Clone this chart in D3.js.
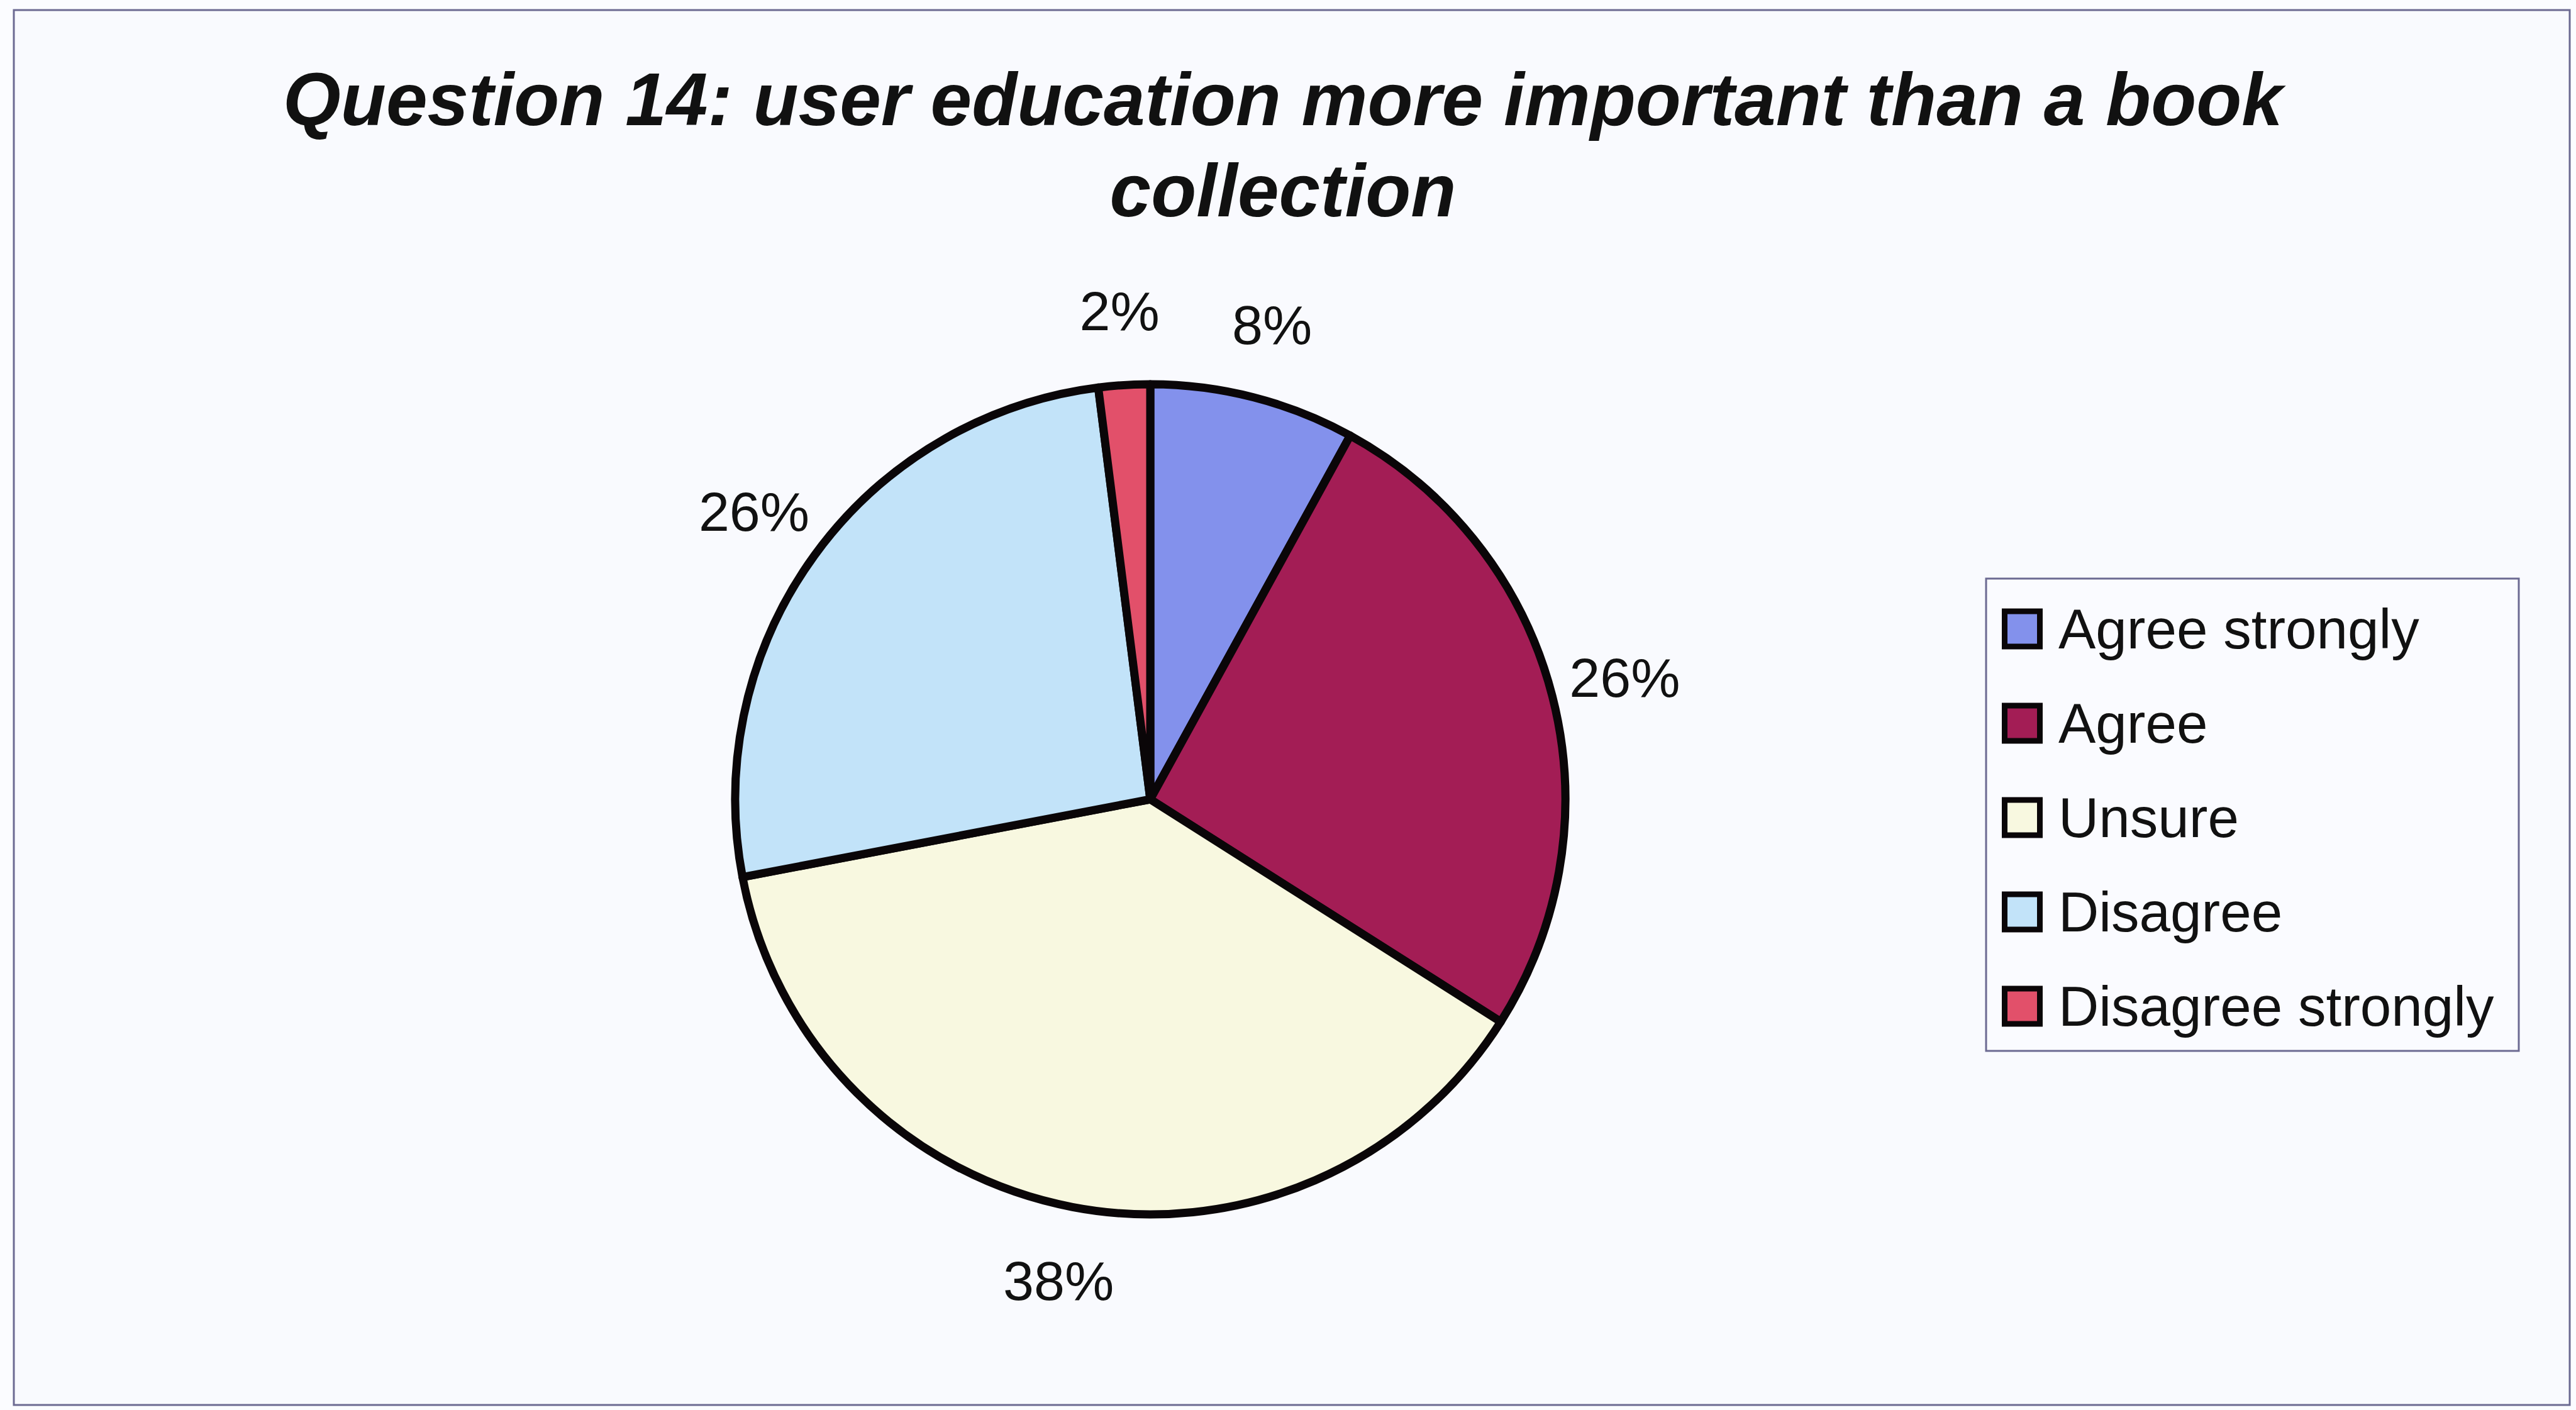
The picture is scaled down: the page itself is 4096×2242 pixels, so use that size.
<!DOCTYPE html>
<html>
<head>
<meta charset="utf-8">
<script src="https://cdn.jsdelivr.net/npm/d3@7"></script>
<style>
  html, body { margin: 0; padding: 0; background: #fbfcff; }
  svg { display: block; }
  text { font-family: 'Liberation Sans', Arial, sans-serif; fill: #111; }
</style>
</head>
<body>
<div id="app"></div>
<script>
const categories = ['Agree strongly', 'Agree', 'Unsure', 'Disagree', 'Disagree strongly'];
const values = [8, 26, 38, 26, 2];
const colors = ['#8391ec', '#a31d55', '#f8f8e0', '#c2e3f9', '#e2506a'];
const titleLines = ['Question 14: user education more important than a book', 'collection'];

const width = 4096;
const height = 2242;
const cx = 1829;
const cy = 1271;
const radius = 660;
const labelRadius = radius * 1.18;

const svg = d3.select('#app').append('svg')
  .attr('width', width)
  .attr('height', height);

// chart frame
svg.append('rect')
  .attr('x', 22)
  .attr('y', 16)
  .attr('width', 4064)
  .attr('height', 2218)
  .attr('fill', '#f9fafe')
  .attr('stroke', '#6c6a92')
  .attr('stroke-width', 3);

svg.append('g')
  .selectAll('text')
  .data(titleLines)
  .enter().append('text')
  .attr('x', 2040)
  .attr('y', (d, i) => 199 + i * 145)
  .attr('text-anchor', 'middle')
  .attr('font-size', 118)
  .attr('font-weight', 'bold')
  .attr('font-style', 'italic')
  .text(d => d);

const color = d3.scaleOrdinal().domain(categories).range(colors);

const pie = d3.pie().sort(null).value(d => d.value);
const arcs = pie(categories.map((c, i) => ({ name: c, value: values[i] })));
const total = d3.sum(values);

const arc = d3.arc().innerRadius(0).outerRadius(radius);
const labelArc = d3.arc().innerRadius(labelRadius).outerRadius(labelRadius);

const pieG = svg.append('g').attr('transform', `translate(${cx},${cy})`);

pieG.selectAll('path')
  .data(arcs)
  .enter().append('path')
  .attr('d', arc)
  .attr('fill', d => color(d.data.name))
  .attr('stroke', '#0a0608')
  .attr('stroke-width', 13)
  .attr('stroke-linejoin', 'round');

pieG.selectAll('text')
  .data(arcs)
  .enter().append('text')
  .attr('transform', d => `translate(${labelArc.centroid(d)})`)
  .attr('text-anchor', 'middle')
  .attr('dy', '0.35em')
  .attr('font-size', 88)
  .text(d => Math.round(d.data.value / total * 100) + '%');

// legend
const legendX = 3158;
const legendY = 920;
const rowH = 150;

const legend = svg.append('g');

legend.append('rect')
  .attr('x', legendX)
  .attr('y', legendY)
  .attr('width', 847)
  .attr('height', 751)
  .attr('fill', '#fafbff')
  .attr('stroke', '#6c6a92')
  .attr('stroke-width', 3);

const item = legend.selectAll('g.item')
  .data(categories)
  .enter().append('g')
  .attr('class', 'item')
  .attr('transform', (d, i) => `translate(${legendX + 25},${legendY + 80 + i * rowH})`);

item.append('rect')
  .attr('x', 4.5)
  .attr('y', -28)
  .attr('width', 56)
  .attr('height', 56)
  .attr('fill', d => color(d))
  .attr('stroke', '#0a0608')
  .attr('stroke-width', 9);

item.append('text')
  .attr('x', 90)
  .attr('dy', '0.35em')
  .attr('font-size', 89)
  .text(d => d);
</script>
</body>
</html>
